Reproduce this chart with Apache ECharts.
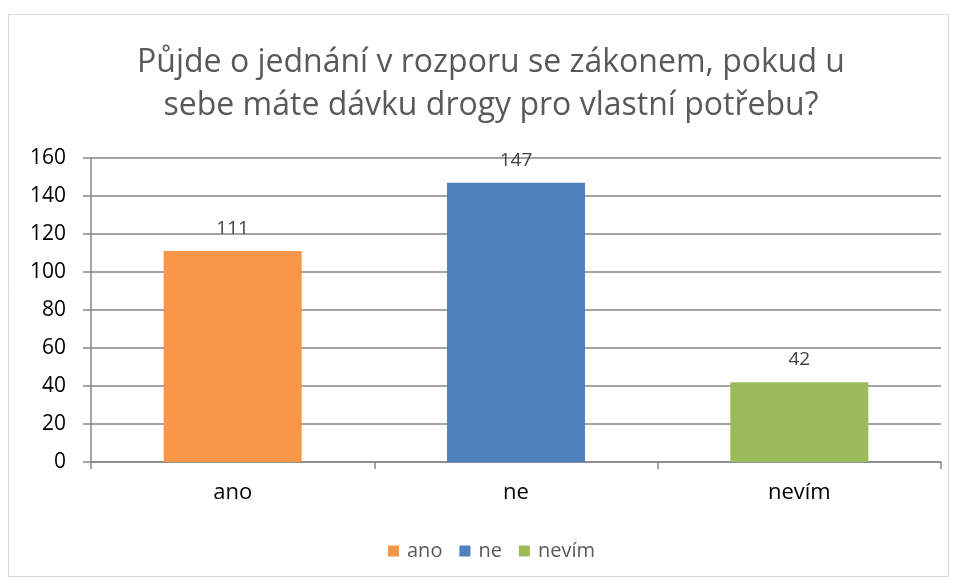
<!DOCTYPE html>
<html><head><meta charset="utf-8">
<script src="https://cdn.jsdelivr.net/npm/echarts@6/dist/echarts.min.js"></script>
<style>html,body{margin:0;padding:0;background:#fff}#c{width:957px;height:583px}</style>
</head><body><div id="c"></div>
<script>
const titleText = "Půjde o jednání v rozporu se zákonem, pokud u\nsebe máte dávku drogy pro vlastní potřebu?";
const categories = ["ano", "ne", "nevím"];
const seriesNames = ["ano", "ne", "nevím"];
const values = [111, 147, 42];
const colors = ["#F79646", "#4F81BD", "#9BBB59"];
const yTicks = { min: 0, max: 160, interval: 20 };

const FONT = "'Open Sans', sans-serif";
const chart = echarts.init(document.getElementById('c'), null, {renderer: 'canvas'});
const series = seriesNames.map((name, i) => ({
  name: name,
  type: 'bar',
  stack: 'all',
  barWidth: 138,
  itemStyle: { color: colors[i] },
  label: { show: true, position: 'top', distance: 13, color: '#404040', fontSize: 19, fontFamily: FONT },
  data: categories.map((c, j) => j === i ? values[i] : '-')
}));
chart.setOption({
  animation: false,
  backgroundColor: '#fff',
  title: {
    text: titleText, left: 486, top: 36, textAlign: 'center',
    textStyle: { fontFamily: FONT, fontWeight: 'normal', fontSize: 32, color: '#595959', lineHeight: 43, align: 'center' }
  },
  graphic: [{ type: 'rect', shape: { x: 8.5, y: 14.5, width: 940, height: 562 }, style: { fill: null, stroke: '#D9D9D9', lineWidth: 1 } }],
  legend: {
    data: seriesNames, bottom: 17, left: 383, itemWidth: 11, itemHeight: 11, itemGap: 17, icon: 'rect',
    textStyle: { fontFamily: FONT, fontSize: 20, color: '#595959', padding: [0, 0, 0, 3] }
  },
  grid: { left: 91, right: 16, top: 158, bottom: 121, containLabel: false },
  xAxis: {
    type: 'category', data: categories,
    axisLine: { lineStyle: { color: '#868686', width: 1.5 } },
    axisTick: { show: true, length: 7, alignWithLabel: false, lineStyle: { color: '#868686', width: 1.5 } },
    axisLabel: { fontFamily: FONT, fontSize: 22, color: '#000', margin: 20 }
  },
  yAxis: {
    type: 'value', min: yTicks.min, max: yTicks.max, interval: yTicks.interval,
    axisLine: { show: true, lineStyle: { color: '#868686', width: 1.5 } },
    axisTick: { show: true, length: 8, lineStyle: { color: '#868686', width: 1.5 } },
    splitLine: { lineStyle: { color: '#868686', width: 1.5 } },
    axisLabel: { fontFamily: FONT, fontSize: 21, color: '#000', margin: 25 }
  },
  series: series
});
</script></body></html>
